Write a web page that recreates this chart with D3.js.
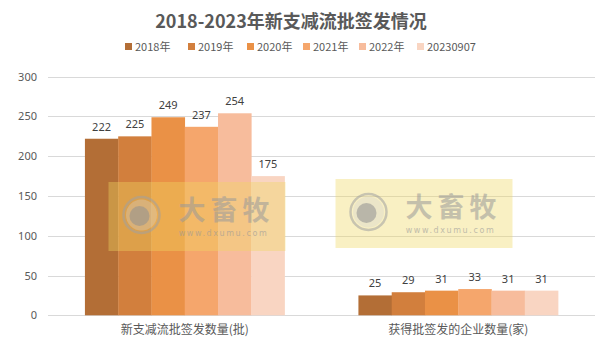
<!DOCTYPE html>
<html><head><meta charset="utf-8">
<script src="https://cdn.jsdelivr.net/npm/d3@7"></script>
<style>body{margin:0;background:#fff;}svg{display:block;font-family:"Noto Sans CJK SC","Noto Sans",sans-serif;}</style>
</head><body>
<svg id="c" width="613" height="355"></svg>
<script>
const categories = ["新支减流批签发数量(批)", "获得批签发的企业数量(家)"];
const seriesNames = ["2018年", "2019年", "2020年", "2021年", "2022年", "20230907"];
const values2018 = [222, 25];
const values2019 = [225, 29];
const values2020 = [249, 31];
const values2021 = [237, 33];
const values2022 = [254, 31];
const values2023 = [175, 31];
const yTicks = [0, 50, 100, 150, 200, 250, 300];
const colors = ["#B36E36", "#D27F3D", "#EA9146", "#F5A66C", "#F7BC9C", "#F9D5C2"];
const series = [values2018, values2019, values2020, values2021, values2022, values2023];

const svg = d3.select("#c");
const x0 = d3.scaleBand().domain(categories).range([48, 595]).paddingInner(0.27).paddingOuter(0.135);
const x1 = d3.scaleBand().domain(seriesNames).range([0, x0.bandwidth()]);
const y = d3.scaleLinear().domain([0, 300]).range([315.3, 76.7]);

// gridlines
svg.append("g").selectAll("line").data(yTicks).join("line")
  .attr("x1", 48).attr("x2", 595)
  .attr("y1", d => Math.round(y(d)) + 0.5).attr("y2", d => Math.round(y(d)) + 0.5)
  .attr("stroke", "#d9d9d9").attr("stroke-width", 1);

// y axis labels
const yAxis = d3.axisLeft(y).tickValues(yTicks).tickSize(0).tickPadding(0);
const ga = svg.append("g").attr("transform", "translate(37,0)").call(yAxis);
ga.select(".domain").remove();
ga.selectAll("text").attr("fill", "#595959").attr("font-size", 11).attr("font-family", "Noto Sans, sans-serif");

// bars
const groups = svg.append("g").selectAll("g").data(categories).join("g")
  .attr("transform", d => `translate(${x0(d)},0)`);
groups.each(function(cat, ci) {
  const g = d3.select(this);
  seriesNames.forEach((s, si) => {
    const v = series[si][ci];
    g.append("rect").attr("x", x1(s)).attr("width", x1.bandwidth() + 0.3)
      .attr("y", y(v)).attr("height", y(0) - y(v)).attr("fill", colors[si]);
    g.append("text").attr("x", x1(s) + x1.bandwidth() / 2).attr("y", y(v) - 8)
      .attr("text-anchor", "middle").attr("font-size", 11).attr("fill", "#404040")
      .attr("font-family", "Noto Sans, sans-serif").text(v);
  });
});

// category labels
svg.append("g").selectAll("text").data(categories).join("text")
  .attr("x", d => x0(d) + x0.bandwidth() / 2).attr("y", 334)
  .attr("text-anchor", "middle").attr("font-size", 12).attr("fill", "#595959").text(d => d);

// watermarks
function watermark(cx, cy) {
  const g = svg.append("g").attr("transform", `translate(${cx},${cy})`);
  g.append("rect").attr("x", -88).attr("y", -35).attr("width", 177).attr("height", 69)
    .attr("fill", "#F0D860").attr("opacity", 0.38);
  g.append("circle").attr("cx", -55).attr("cy", -2).attr("r", 18).attr("fill", "none")
    .attr("stroke", "#a0a0a0").attr("stroke-width", 2.5).attr("opacity", 0.55);
  g.append("circle").attr("cx", -55).attr("cy", -2).attr("r", 15.5).attr("fill", "#d0d0d0").attr("opacity", 0.35);
  g.append("circle").attr("cx", -57).attr("cy", -1).attr("r", 10).attr("fill", "#909090").attr("opacity", 0.55);
  g.append("text").attr("x", 30).attr("y", 3).attr("text-anchor", "middle").attr("font-size", 27)
    .attr("font-weight", "bold").attr("fill", "#999").attr("opacity", 0.55).attr("letter-spacing", 5).text("大畜牧");
  g.append("text").attr("x", 27).attr("y", 19).attr("text-anchor", "middle").attr("font-size", 8)
    .attr("fill", "#999").attr("opacity", 0.6).attr("letter-spacing", 1.6).attr("font-family", "DejaVu Sans, sans-serif").text("www.dxumu.com");
}
watermark(196.5, 217);
watermark(423.5, 214);

// title
svg.append("text").attr("x", 291).attr("y", 28).attr("text-anchor", "middle")
  .attr("font-size", 18).attr("font-weight", "bold").attr("fill", "#595959")
  .text("2018-2023年新支减流批签发情况");

// legend
const legendX = [125, 188, 247, 303, 359, 417];
const lg = svg.append("g").selectAll("g").data(seriesNames).join("g")
  .attr("transform", (d, i) => `translate(${legendX[i]},47)`);
lg.append("rect").attr("x", 0).attr("y", -4).attr("width", 7).attr("height", 7).attr("fill", (d, i) => colors[i]);
lg.append("text").attr("x", 10).attr("y", 4).attr("font-size", 11).attr("fill", "#595959").text(d => d);
</script>
</body></html>
